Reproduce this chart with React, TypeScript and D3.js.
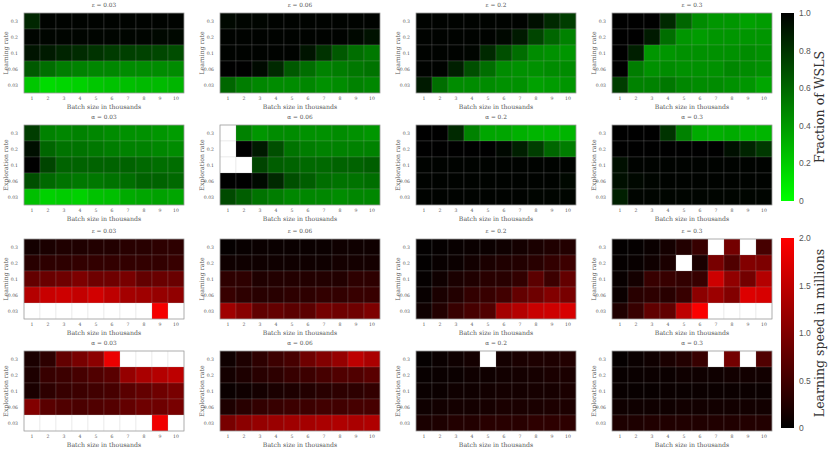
import React from "react";
import * as d3 from "d3";

const batchSizes = ["1", "2", "3", "4", "5", "6", "7", "8", "9", "10"];
const rateTicks = ["0.3", "0.2", "0.1", "0.06", "0.03"];
const paramValues = ["0.03", "0.06", "0.2", "0.3"];
const wslsTicks = [0, 0.2, 0.4, 0.6, 0.8, 1.0];
const speedTicks = [0, 0.5, 1.0, 1.5, 2.0];

type G = (number | null)[][];

// Fraction of WSLS, varying learning rate (epsilon panels)
const wslsEps003: G = [
  [0.85, 0.99, 0.99, 0.99, 0.99, 0.99, 0.99, 0.99, 0.99, 0.99],
  [0.98, 0.98, 0.98, 0.98, 0.98, 0.98, 0.98, 0.98, 0.97, 0.97],
  [0.92, 0.9, 0.86, 0.83, 0.8, 0.77, 0.75, 0.74, 0.72, 0.7],
  [0.65, 0.57, 0.51, 0.49, 0.47, 0.47, 0.45, 0.45, 0.45, 0.45],
  [0.22, 0.14, 0.16, 0.18, 0.22, 0.24, 0.25, 0.27, 0.27, 0.29],
];
const wslsEps006: G = [
  [0.97, 0.98, 0.98, 0.99, 0.99, 0.99, 0.99, 0.99, 0.99, 0.99],
  [0.99, 0.99, 0.99, 0.99, 0.99, 0.99, 0.99, 0.99, 0.97, 0.93],
  [0.99, 0.99, 0.99, 0.99, 0.99, 0.92, 0.8, 0.65, 0.57, 0.53],
  [1.0, 1.0, 0.96, 0.84, 0.65, 0.57, 0.49, 0.51, 0.53, 0.55],
  [0.6, 0.51, 0.47, 0.45, 0.45, 0.47, 0.43, 0.45, 0.49, 0.47],
];
const wslsEps02: G = [
  [0.99, 0.99, 0.99, 0.99, 0.99, 0.99, 0.99, 0.94, 0.84, 0.76],
  [0.99, 0.99, 0.99, 0.99, 0.99, 0.97, 0.9, 0.73, 0.6, 0.49],
  [0.99, 0.99, 0.99, 0.98, 0.84, 0.69, 0.57, 0.45, 0.43, 0.41],
  [0.99, 0.99, 0.88, 0.69, 0.57, 0.45, 0.43, 0.43, 0.45, 0.45],
  [0.9, 0.57, 0.45, 0.45, 0.45, 0.43, 0.43, 0.37, 0.39, 0.41],
];
const wslsEps03: G = [
  [1.0, 1.0, 1.0, 0.84, 0.6, 0.45, 0.41, 0.41, 0.37, 0.39],
  [1.0, 1.0, 0.9, 0.57, 0.41, 0.39, 0.41, 0.41, 0.41, 0.41],
  [1.0, 0.88, 0.41, 0.41, 0.43, 0.43, 0.43, 0.43, 0.45, 0.43],
  [1.0, 0.51, 0.43, 0.45, 0.43, 0.43, 0.43, 0.47, 0.45, 0.43],
  [0.76, 0.49, 0.49, 0.53, 0.47, 0.45, 0.45, 0.43, 0.41, 0.35],
];
// Fraction of WSLS, varying exploration rate (alpha panels)
const wslsAlpha003: G = [
  [0.76, 0.49, 0.47, 0.49, 0.47, 0.45, 0.43, 0.43, 0.41, 0.39],
  [0.94, 0.6, 0.55, 0.55, 0.53, 0.51, 0.49, 0.49, 0.47, 0.45],
  [1.0, 0.73, 0.61, 0.61, 0.61, 0.61, 0.61, 0.59, 0.57, 0.57],
  [0.69, 0.59, 0.55, 0.53, 0.53, 0.55, 0.57, 0.61, 0.61, 0.59],
  [0.25, 0.18, 0.2, 0.18, 0.24, 0.25, 0.33, 0.35, 0.37, 0.35],
];
const wslsAlpha006: G = [
  [null, 0.49, 0.41, 0.45, 0.45, 0.43, 0.43, 0.45, 0.43, 0.41],
  [null, 1.0, 0.9, 0.69, 0.55, 0.51, 0.49, 0.49, 0.49, 0.49],
  [null, null, 0.73, 0.63, 0.61, 0.59, 0.59, 0.61, 0.61, 0.63],
  [1.0, 1.0, 0.96, 0.84, 0.69, 0.63, 0.57, 0.55, 0.55, 0.57],
  [0.71, 0.63, 0.55, 0.51, 0.47, 0.47, 0.47, 0.45, 0.47, 0.47],
];
const wslsAlpha02: G = [
  [1.0, 1.0, 0.84, 0.49, 0.35, 0.35, 0.31, 0.29, 0.29, 0.29],
  [1.0, 1.0, 1.0, 1.0, 1.0, 0.97, 0.88, 0.76, 0.6, 0.51],
  [0.99, 0.99, 0.99, 0.99, 0.99, 0.99, 0.99, 0.99, 0.99, 0.99],
  [0.99, 0.99, 0.99, 0.99, 0.99, 0.99, 0.99, 0.99, 0.99, 0.97],
  [0.99, 0.99, 0.99, 0.99, 0.99, 0.99, 0.99, 0.98, 0.98, 0.98],
];
const wslsAlpha03: G = [
  [1.0, 1.0, 1.0, 0.8, 0.49, 0.33, 0.31, 0.33, 0.29, 0.29],
  [1.0, 1.0, 1.0, 1.0, 1.0, 1.0, 1.0, 0.94, 0.86, 0.78],
  [0.94, 0.99, 0.99, 0.99, 0.99, 0.99, 0.99, 0.99, 0.99, 0.99],
  [0.94, 0.97, 0.98, 0.99, 0.99, 0.99, 0.99, 0.99, 0.99, 0.99],
  [0.88, 0.98, 0.98, 0.98, 0.98, 0.98, 0.98, 0.98, 0.98, 0.98],
];

// Learning speed in millions, varying learning rate (epsilon panels)
const speedEps003: G = [
  [0.16, 0.2, 0.24, 0.24, 0.27, 0.27, 0.31, 0.31, 0.35, 0.35],
  [0.31, 0.35, 0.35, 0.39, 0.39, 0.39, 0.39, 0.39, 0.39, 0.43],
  [0.78, 0.82, 0.86, 0.98, 0.86, 0.86, 0.94, 0.78, 0.82, 0.82],
  [1.41, 1.57, 1.61, 1.53, 1.65, 1.49, 1.29, 1.25, 1.18, 1.14],
  [null, null, null, null, null, null, null, null, 1.92, null],
];
const speedEps006: G = [
  [0.04, 0.06, 0.08, 0.08, 0.08, 0.08, 0.09, 0.12, 0.12, 0.12],
  [0.12, 0.12, 0.12, 0.12, 0.12, 0.12, 0.12, 0.16, 0.16, 0.16],
  [0.35, 0.35, 0.24, 0.27, 0.27, 0.27, 0.27, 0.27, 0.35, 0.35],
  [0.43, 0.35, 0.31, 0.31, 0.35, 0.35, 0.39, 0.39, 0.43, 0.43],
  [1.25, 1.06, 0.75, 0.78, 0.71, 0.71, 0.9, 0.86, 0.86, 0.98],
];
const speedEps02: G = [
  [0.02, 0.04, 0.06, 0.08, 0.09, 0.12, 0.16, 0.2, 0.24, 0.27],
  [0.02, 0.06, 0.09, 0.14, 0.2, 0.24, 0.27, 0.31, 0.39, 0.47],
  [0.04, 0.12, 0.2, 0.24, 0.31, 0.31, 0.39, 0.71, 0.47, 0.78],
  [0.06, 0.2, 0.27, 0.39, 0.43, 0.51, 0.78, 0.86, 1.02, 0.94],
  [0.12, 0.27, 0.43, 0.55, 0.63, 1.29, 1.41, 1.57, 1.61, 1.69],
];
const speedEps03: G = [
  [0.02, 0.04, 0.08, 0.16, 0.27, 0.43, null, 0.9, null, 0.55],
  [0.04, 0.06, 0.12, 0.2, null, 0.2, 0.94, 0.63, 1.02, 0.98],
  [0.06, 0.16, 0.43, 0.43, 0.39, 0.43, 1.61, 1.14, 0.9, 1.41],
  [0.09, 0.31, 0.35, 0.31, 0.43, 1.1, 1.22, 1.02, 1.73, 1.69],
  [0.24, 0.43, 0.75, 0.75, 1.49, 1.96, null, null, null, null],
];
// Learning speed in millions, varying exploration rate (alpha panels)
const speedAlpha003: G = [
  [0.2, 0.35, 0.78, 0.94, 1.1, 1.84, null, null, null, null],
  [0.23, 0.43, 0.47, 0.55, 0.63, 0.7, 1.17, 1.33, 1.41, 1.48],
  [0.2, 0.35, 0.43, 0.47, 0.51, 0.55, 0.7, 0.78, 0.86, 0.94],
  [1.02, 0.7, 0.63, 0.59, 0.63, 0.66, 0.78, 0.86, 0.86, 0.94],
  [null, null, null, null, null, null, null, null, 1.88, null],
];
const speedAlpha006: G = [
  [0.12, 0.23, 0.35, 0.47, 0.55, 0.86, 1.02, 1.17, 1.48, 1.33],
  [0.16, 0.23, 0.31, 0.35, 0.43, 0.47, 0.55, 0.63, 0.63, 0.7],
  [0.08, 0.12, 0.16, 0.2, 0.23, 0.27, 0.31, 0.35, 0.35, 0.39],
  [0.23, 0.31, 0.39, 0.43, 0.47, 0.47, 0.51, 0.51, 0.55, 0.55],
  [0.94, 1.09, 1.17, 1.21, 1.25, 1.29, 1.33, 1.37, 1.33, 1.37],
];
const speedAlpha02: G = [
  [0.04, 0.08, 0.12, 0.16, null, 0.16, 0.2, 0.23, 0.23, 0.27],
  [0.06, 0.08, 0.09, 0.12, 0.12, 0.14, 0.16, 0.17, 0.2, 0.2],
  [0.08, 0.09, 0.12, 0.12, 0.14, 0.16, 0.16, 0.17, 0.17, 0.2],
  [0.12, 0.14, 0.16, 0.16, 0.17, 0.2, 0.2, 0.2, 0.22, 0.22],
  [0.2, 0.23, 0.27, 0.27, 0.31, 0.31, 0.31, 0.35, 0.35, 0.35],
];
const speedAlpha03: G = [
  [0.04, 0.08, 0.12, 0.2, 0.27, 0.43, null, 0.9, null, 0.63],
  [0.06, 0.08, 0.09, 0.09, 0.12, 0.12, 0.12, 0.14, 0.14, 0.14],
  [0.06, 0.06, 0.06, 0.08, 0.08, 0.09, 0.09, 0.09, 0.09, 0.09],
  [0.12, 0.12, 0.12, 0.12, 0.14, 0.14, 0.14, 0.14, 0.14, 0.14],
  [0.23, 0.23, 0.25, 0.25, 0.25, 0.25, 0.25, 0.25, 0.27, 0.27],
];

const greenScale = d3.scaleLinear<string>().domain([0, 1]).range(["#00ff00", "#000000"]).clamp(true);
const redScale = d3.scaleLinear<string>().domain([0, 2]).range(["#000000", "#ff0000"]).clamp(true);

const rows = [
  { grids: [wslsEps003, wslsEps006, wslsEps02, wslsEps03], sym: "ε", ylab: "Learning rate", color: greenScale, top: 13 },
  { grids: [wslsAlpha003, wslsAlpha006, wslsAlpha02, wslsAlpha03], sym: "α", ylab: "Exploration rate", color: greenScale, top: 125 },
  { grids: [speedEps003, speedEps006, speedEps02, speedEps03], sym: "ε", ylab: "Learning rate", color: redScale, top: 239 },
  { grids: [speedAlpha003, speedAlpha006, speedAlpha02, speedAlpha03], sym: "α", ylab: "Exploration rate", color: redScale, top: 351 },
];

const PW = 160;
const PH = 80;
const lefts = [24, 220, 416, 612];
const SERIF = "'DejaVu Serif', 'Liberation Serif', serif";
const SANS = "'Liberation Sans', 'DejaVu Sans', sans-serif";
const TXT = "#555";

function Panel({ grid, left, top, color, title, ylab }: any) {
  const x = d3.scaleBand().domain(batchSizes).range([0, PW]);
  const y = d3.scaleBand().domain(rateTicks).range([0, PH]);
  return (
    <g transform={`translate(${left},${top})`}>
      {grid.map((row: (number | null)[], ri: number) =>
        row.map((v, ci) => (
          <rect
            key={`${ri}-${ci}`}
            x={x(batchSizes[ci])}
            y={y(rateTicks[ri])}
            width={x.bandwidth()}
            height={y.bandwidth()}
            fill={v === null ? "#ffffff" : color(v)}
            stroke="#b0b0b0"
            strokeOpacity={0.35}
            strokeWidth={0.5}
          />
        ))
      )}
      <rect x={0} y={0} width={PW} height={PH} fill="none" stroke="#999" strokeWidth={0.7} />
      {batchSizes.map((b) => (
        <text key={b} x={(x(b) as number) + x.bandwidth() / 2} y={PH + 6.5} fontSize={4.6} textAnchor="middle" fill={TXT} fontFamily={SERIF}>
          {b}
        </text>
      ))}
      {rateTicks.map((r) => (
        <text key={r} x={-6} y={(y(r) as number) + y.bandwidth() / 2 + 1.6} fontSize={4.6} textAnchor="end" fill={TXT} fontFamily={SERIF}>
          {r}
        </text>
      ))}
      <text x={PW / 2} y={PH + 16} fontSize={6.2} textAnchor="middle" fill={TXT} fontFamily={SERIF}>
        Batch size in thousands
      </text>
      <text x={PW / 2} y={-6.5} fontSize={5.8} textAnchor="middle" fill={TXT} fontFamily={SERIF}>
        {title}
      </text>
      <text transform={`translate(${-16},${PH / 2}) rotate(-90)`} fontSize={6.2} textAnchor="middle" fill={TXT} fontFamily={SERIF}>
        {ylab}
      </text>
    </g>
  );
}

function Colorbar({ id, x0, y0, y1, scale, ticks, fmt, label, domain }: any) {
  const yS = d3.scaleLinear().domain(domain).range([y1, y0]);
  const stops = d3.range(0, 1.0001, 0.1);
  return (
    <g>
      <defs>
        <linearGradient id={id} x1="0" y1="1" x2="0" y2="0">
          {stops.map((s) => (
            <stop key={s} offset={s} stopColor={scale(domain[0] + s * (domain[1] - domain[0]))} />
          ))}
        </linearGradient>
      </defs>
      <rect x={x0} y={y0} width={13} height={y1 - y0} fill={`url(#${id})`} />
      {ticks.map((t: number) => (
        <text key={t} x={x0 + 18} y={yS(t) + 3} fontSize={8.5} fill="#555" fontFamily={SANS}>
          {fmt(t)}
        </text>
      ))}
      <text transform={`translate(${824},${(y0 + y1) / 2}) rotate(-90)`} fontSize={12.5} textAnchor="middle" fill="#333" fontFamily={SERIF}>
        {label}
      </text>
    </g>
  );
}

export default function App() {
  return (
    <svg width={831} height={453} style={{ position: "absolute", left: 0, top: 0, background: "#fff" }}>
      {rows.map((r, ri) =>
        r.grids.map((g, pi) => (
          <Panel
            key={`${ri}-${pi}`}
            grid={g}
            left={lefts[pi]}
            top={r.top}
            color={r.color}
            title={`${r.sym} = ${paramValues[pi]}`}
            ylab={r.ylab}
          />
        ))
      )}
      <Colorbar
        id="gbar"
        x0={781}
        y0={13}
        y1={201}
        scale={greenScale}
        domain={[0, 1]}
        ticks={wslsTicks}
        fmt={(t: number) => (t === 0 ? "0" : t.toFixed(1))}
        label="Fraction of WSLS"
      />
      <Colorbar
        id="rbar"
        x0={781}
        y0={238}
        y1={428}
        scale={redScale}
        domain={[0, 2]}
        ticks={speedTicks}
        fmt={(t: number) => (t === 0 ? "0" : t.toFixed(1))}
        label="Learning speed in millions"
      />
    </svg>
  );
}
